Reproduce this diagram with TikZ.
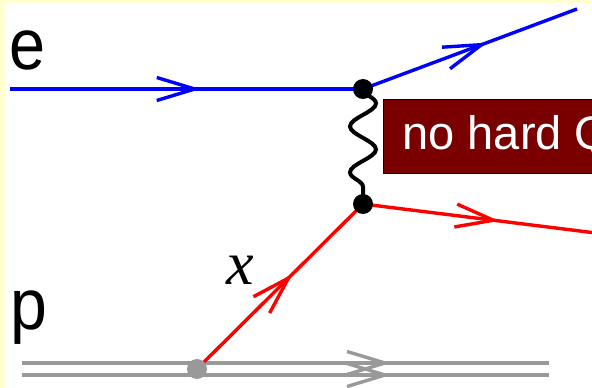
\documentclass[tikz,border=0pt]{standalone}
\usepackage{fontspec}
\setmainfont{Liberation Sans}
\newfontfamily\serifx{Liberation Serif}
\usetikzlibrary{arrows.meta,decorations.pathmorphing,decorations.markings}
\definecolor{bgyellow}{RGB}{255,255,208}
\definecolor{boxred}{RGB}{122,0,0}
\definecolor{pgray}{RGB}{153,153,153}
\definecolor{eblue}{RGB}{0,0,255}
\definecolor{qred}{RGB}{255,0,0}
\tikzset{
  midarrow/.style={postaction={decorate,decoration={markings,
     mark=at position #1 with {\arrow{Straight Barb[length=38pt,width=23pt]}}}}},
  fermion/.style={line width=3.4pt},
  vdot/.style={circle,fill=black,inner sep=0pt,minimum size=20pt},
  gdot/.style={circle,fill=pgray,inner sep=0pt,minimum size=20pt},
  biglabel/.style={anchor=base west,inner sep=0pt,font=\fontsize{72}{80}\selectfont},
  photon/.style={line width=4pt,decorate,decoration={snake,amplitude=13pt,segment length=46pt}},
}
\begin{document}
\begin{tikzpicture}[x=1pt,y=-1pt]
\useasboundingbox (0,0) rectangle (592,388);
\fill[bgyellow] (0,0) rectangle (592,388);
\fill[white] (5,3) rectangle (600,392);
% coordinates
\coordinate (ein) at (10,89);
\coordinate (v1) at (363,89);
\coordinate (v2) at (363,204);
\coordinate (eout) at (577,9);
\coordinate (qout) at (596,233);
\coordinate (pg) at (197,369);
\coordinate (pa1) at (22,363);
\coordinate (pb1) at (549,363);
\coordinate (pa2) at (22,375);
\coordinate (pb2) at (549,375);
% proton
\draw[pgray,fermion,midarrow=0.70] (pa1) -- (pb1);
\draw[pgray,fermion,midarrow=0.70] (pa2) -- (pb2);
% electron
\draw[eblue,fermion,midarrow=0.54] (ein) -- (v1);
\draw[eblue,fermion,midarrow=0.58] (v1) -- (eout);
% quark
\draw[qred,fermion,midarrow=0.576] (pg) -- (v2);
\draw[qred,fermion,midarrow=0.585] (v2) -- (qout);
% photon
\draw[photon] (v1) -- (v2);
% dots
\node[vdot] (n1) at (v1) {};
\node[vdot] (n2) at (v2) {};
\node[gdot] (n3) at (pg) {};
% labels
\node[biglabel] (le) at (9,69) {\scalebox{0.9}[1]{e}};
\node[biglabel] (lp) at (10,329) {\scalebox{0.92}[1]{p}};
\node[font=\serifx\itshape\fontsize{62}{70}\selectfont,inner sep=0pt] (lx) at (240,270) {x};
% box
\node[anchor=north west,fill=boxred,draw=black,line width=1pt,minimum height=74pt,
      inner xsep=19pt,inner ysep=0pt,text=white,font=\fontsize{47}{52}\selectfont] (box) at (383,99) {no hard QCD};
\end{tikzpicture}
\end{document}
